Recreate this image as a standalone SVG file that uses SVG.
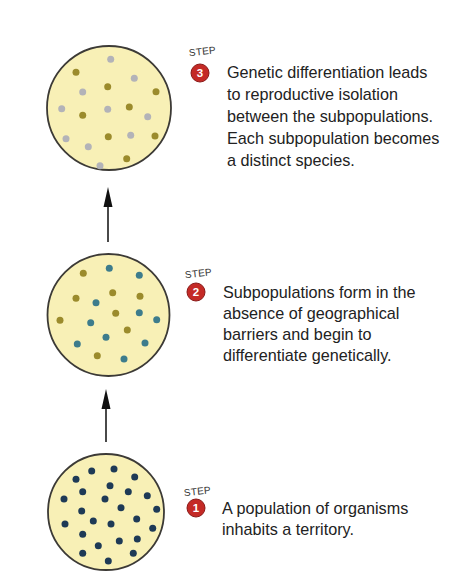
<svg xmlns="http://www.w3.org/2000/svg" width="450" height="586" viewBox="0 0 450 586">
<style>
.pop{fill:#f8f0b6;stroke:#3c3a36;stroke-width:1.8}
.g{fill:#b3b3b8}
.o{fill:#9b8b2c}
.t{fill:#3d7c8c}
.n{fill:#1e3a56}
.txt{font-family:"Liberation Sans",Arial,sans-serif;font-size:16.2px;fill:#222}
.step{font-family:"Liberation Sans",Arial,sans-serif;font-size:10px;fill:#333;letter-spacing:0.2px}
.badge{fill:#c42a26;stroke:#8a1a18;stroke-width:1}
.num{font-family:"Liberation Sans",Arial,sans-serif;font-size:11.5px;font-weight:bold;fill:#fff;text-anchor:middle}
.shaft{stroke:#4a4a4a;stroke-width:2}
.head{fill:#111}
</style>
<g id="connectors">
<line class="shaft" x1="108" y1="242" x2="108" y2="204"/>
<polygon class="head" points="108,187 103.5,207 112.5,207"/>
<line class="shaft" x1="106" y1="442" x2="106" y2="405"/>
<polygon class="head" points="106,389 101.5,409 110.5,409"/>
</g>
<g id="population3">
<circle class="pop" cx="109" cy="108" r="62"/>
<circle class="g" cx="110.7" cy="59.3" r="3.5"/>
<circle class="o" cx="76" cy="72.3" r="3.5"/>
<circle class="g" cx="134.3" cy="78.3" r="3.5"/>
<circle class="o" cx="107.7" cy="86.7" r="3.5"/>
<circle class="g" cx="82.7" cy="92" r="3.5"/>
<circle class="o" cx="156" cy="91.7" r="3.5"/>
<circle class="g" cx="61.7" cy="108.7" r="3.5"/>
<circle class="o" cx="129.3" cy="107" r="3.5"/>
<circle class="g" cx="107.7" cy="109.3" r="3.5"/>
<circle class="o" cx="82.7" cy="115.3" r="3.5"/>
<circle class="g" cx="147.7" cy="116.7" r="3.5"/>
<circle class="g" cx="66" cy="138.7" r="3.5"/>
<circle class="o" cx="108.3" cy="136.7" r="3.5"/>
<circle class="g" cx="130.7" cy="135.3" r="3.5"/>
<circle class="o" cx="155" cy="136" r="3.5"/>
<circle class="g" cx="88.3" cy="146.7" r="3.5"/>
<circle class="o" cx="126.7" cy="158.7" r="3.5"/>
<circle class="g" cx="100" cy="165.7" r="3.5"/>
</g>
<g id="step3">
<text class="step" x="189" y="55" transform="rotate(-6 200 52)">STEP</text>
<circle class="badge" cx="200" cy="73" r="9"/>
<text class="num" x="200" y="77">3</text>
<text class="txt" x="227" y="78">Genetic differentiation leads</text>
<text class="txt" x="227" y="100">to reproductive isolation</text>
<text class="txt" x="227" y="122">between the subpopulations.</text>
<text class="txt" x="227" y="144">Each subpopulation becomes</text>
<text class="txt" x="227" y="165.5">a distinct species.</text>
</g>
<g id="population2">
<circle class="pop" cx="108.5" cy="315" r="61"/>
<circle class="o" cx="83.3" cy="273.3" r="3.5"/>
<circle class="t" cx="109.3" cy="268.3" r="3.5"/>
<circle class="t" cx="139.3" cy="275.3" r="3.5"/>
<circle class="o" cx="76" cy="298.3" r="3.5"/>
<circle class="o" cx="112.7" cy="292.7" r="3.5"/>
<circle class="o" cx="140" cy="296.3" r="3.5"/>
<circle class="t" cx="96" cy="302.7" r="3.5"/>
<circle class="o" cx="115.7" cy="313.3" r="3.5"/>
<circle class="t" cx="139.3" cy="312.7" r="3.5"/>
<circle class="t" cx="156.7" cy="319.7" r="3.5"/>
<circle class="o" cx="60" cy="320.3" r="3.5"/>
<circle class="t" cx="90.7" cy="322.7" r="3.5"/>
<circle class="o" cx="127.3" cy="330" r="3.5"/>
<circle class="t" cx="106" cy="337.3" r="3.5"/>
<circle class="t" cx="77.3" cy="344" r="3.5"/>
<circle class="t" cx="145" cy="343" r="3.5"/>
<circle class="o" cx="97.3" cy="355.7" r="3.5"/>
<circle class="t" cx="124" cy="359" r="3.5"/>
</g>
<g id="step2">
<text class="step" x="185" y="277" transform="rotate(-6 196 274)">STEP</text>
<circle class="badge" cx="196" cy="292" r="9"/>
<text class="num" x="196" y="296">2</text>
<text class="txt" x="223" y="298">Subpopulations form in the</text>
<text class="txt" x="223" y="319">absence of geographical</text>
<text class="txt" x="223" y="340">barriers and begin to</text>
<text class="txt" x="223" y="361">differentiate genetically.</text>
</g>
<g id="population1">
<circle class="pop" cx="106" cy="512" r="58"/>
<circle class="n" cx="91.7" cy="471" r="3.5"/>
<circle class="n" cx="114" cy="469" r="3.5"/>
<circle class="n" cx="76" cy="479.3" r="3.5"/>
<circle class="n" cx="134.7" cy="477" r="3.5"/>
<circle class="n" cx="110" cy="485.7" r="3.5"/>
<circle class="n" cx="82.7" cy="491.7" r="3.5"/>
<circle class="n" cx="128.3" cy="491.7" r="3.5"/>
<circle class="n" cx="64" cy="499" r="3.5"/>
<circle class="n" cx="105" cy="499" r="3.5"/>
<circle class="n" cx="147.3" cy="495.7" r="3.5"/>
<circle class="n" cx="81.7" cy="511" r="3.5"/>
<circle class="n" cx="121" cy="507.7" r="3.5"/>
<circle class="n" cx="156.7" cy="509.3" r="3.5"/>
<circle class="n" cx="93.3" cy="521" r="3.5"/>
<circle class="n" cx="136.7" cy="519" r="3.5"/>
<circle class="n" cx="65" cy="524" r="3.5"/>
<circle class="n" cx="111" cy="524" r="3.5"/>
<circle class="n" cx="152.7" cy="528.3" r="3.5"/>
<circle class="n" cx="82.7" cy="534.3" r="3.5"/>
<circle class="n" cx="137.3" cy="539" r="3.5"/>
<circle class="n" cx="98.3" cy="545.7" r="3.5"/>
<circle class="n" cx="119.3" cy="541" r="3.5"/>
<circle class="n" cx="82.7" cy="553.3" r="3.5"/>
<circle class="n" cx="133.3" cy="553.3" r="3.5"/>
<circle class="n" cx="108.3" cy="561" r="3.5"/>
</g>
<g id="step1">
<text class="step" x="184" y="495" transform="rotate(-6 195 492)">STEP</text>
<circle class="badge" cx="196" cy="508" r="9"/>
<text class="num" x="196" y="512">1</text>
<text class="txt" x="222" y="514">A population of organisms</text>
<text class="txt" x="222" y="535">inhabits a territory.</text>
</g>
</svg>
